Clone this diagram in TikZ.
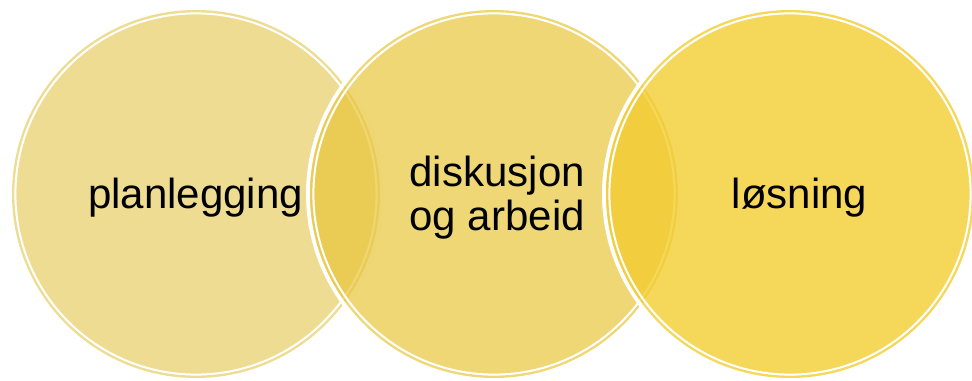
\documentclass[tikz,border=0pt]{standalone}
\usepackage{fontspec}
\setmainfont{Liberation Sans}

\definecolor{planfill}{RGB}{225,197,72}
\definecolor{diskfill}{RGB}{233,198,59}
\definecolor{losfill}{RGB}{243,205,49}

\begin{document}
\begin{tikzpicture}[
  line join=round, line cap=round,
  halo/.style={draw=white, line width=0.1cm},
  rim/.style={line width=0.06cm},
  innerrim/.style={draw=white, line width=0.05cm},
  venntext/.style={font=\fontsize{29.9}{31.3}\selectfont, align=center, inner sep=0pt},
]
\useasboundingbox (0,0) rectangle (24.3,9.525);

% ── first circle: planning ────────────────────────────────────────────────
\begin{scope}[shift={(4.9,4.675)}]
  \draw[halo] (0,0) circle (4.65);
  \fill[planfill, fill opacity=0.6] (0,0) circle (4.54);
  \draw[rim, planfill, draw opacity=0.6] (0,0) circle (4.57);
  \draw[innerrim] (0,0) circle (4.515);
\end{scope}

% ── second circle: its white halo cuts into the first one ─────────────────
\begin{scope}[shift={(12.35,4.675)}]
  \draw[halo] (0,0) circle (4.65);
  \fill[diskfill, fill opacity=0.7] (0,0) circle (4.54);
  \draw[rim, diskfill, draw opacity=0.7] (0,0) circle (4.57);
  \draw[innerrim] (0,0) circle (4.515);
\end{scope}

% ── third circle, the strongest yellow ────────────────────────────────────
\begin{scope}[shift={(19.75,4.675)}]
  \draw[halo] (0,0) circle (4.65);
  \fill[losfill, fill opacity=0.8] (0,0) circle (4.54);
  \draw[rim, losfill, draw opacity=0.8] (0,0) circle (4.57);
  \draw[innerrim] (0,0) circle (4.515);
\end{scope}

% the words, on top of everything
\node[venntext] (plan) at (4.89,4.59)  {planlegging};
\node[venntext] (disk) at (12.43,4.59) {diskusjon\\og arbeid};
\node[venntext] (los)  at (19.99,4.59) {løsning};

\end{tikzpicture}
\end{document}
